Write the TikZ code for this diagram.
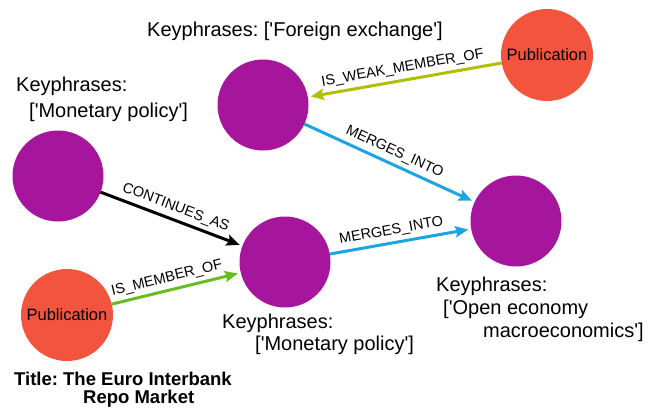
\documentclass[tikz,border=0pt]{standalone}
\usepackage{fontspec}
\setmainfont{Liberation Sans}
\usetikzlibrary{arrows.meta}
\definecolor{kwpurple}{RGB}{166,22,156}
\definecolor{pubred}{RGB}{242,84,62}
\definecolor{relolive}{RGB}{176,190,10}
\definecolor{relblue}{RGB}{28,165,226}
\definecolor{relgreen}{RGB}{102,190,30}
\newcommand{\sq}{\textquotesingle}
\tikzset{
  kwnode/.style={circle, fill=kwpurple, minimum size=91pt, inner sep=0pt, outer sep=0pt},
  pubnode/.style={circle, fill=pubred, minimum size=92pt, inner sep=0pt, outer sep=0pt,
    font=\fontsize{16.5}{18}\selectfont},
  caption/.style={font=\fontsize{20}{22}\selectfont, inner sep=0pt, anchor=base west},
  titletext/.style={font=\fontsize{18.5}{20}\selectfont\bfseries, inner sep=0pt, anchor=base west},
  rel/.style={line width=3pt, -{Stealth[length=13pt, width=11pt, inset=2pt]}, shorten >=3pt},
  rellabel/.style={midway, sloped, above=3pt, inner sep=1pt, font=\fontsize{14.5}{16}\selectfont}
}
\begin{document}
\frenchspacing
\begin{tikzpicture}[x=1pt, y=1pt]
  \useasboundingbox (0,0) rectangle (656,-407);

  % nodes
  \node[kwnode]  (mono1) at (58,-176)  {};
  \node[kwnode]  (forex) at (263,-105) {};
  \node[pubnode] (pub1)  at (547,-55)  {Publication};
  \node[kwnode]  (open)  at (516,-221) {};
  \node[kwnode]  (mono2) at (285,-262) {};
  \node[pubnode] (pub2)  at (67,-315)  {Publication};

  % captions
  \node[caption] (capforex)  at (147,-36)  {Keyphrases: [\sq Foreign exchange\sq]};
  \node[caption] (capmonoA)  at (16,-91)   {Keyphrases:};
  \node[caption] (capmonoB)  at (29,-117)  {[\sq Monetary policy\sq]};
  \node[caption] (capmonoC)  at (222,-328) {Keyphrases:};
  \node[caption] (capmonoD)  at (255,-350) {[\sq Monetary policy\sq]};
  \node[caption] (capopenA)  at (436,-291) {Keyphrases:};
  \node[caption] (capopenB)  at (443,-314) {[\sq Open economy};
  \node[caption] (capopenC)  at (483,-337) {macroeconomics\sq]};
  \node[titletext] (titleA)  at (14,-385)  {Title: The Euro Interbank};
  \node[titletext] (titleB)  at (83,-403)  {Repo Market};

  % relationships
  \draw[rel, relolive] (pub1) -- (forex) node[rellabel, black] {IS\_WEAK\_MEMBER\_OF};
  \draw[rel, relblue]  (forex) -- (open) node[rellabel, black] {MERGES\_INTO};
  \draw[rel, black]    (mono1) -- (mono2) node[rellabel] {CONTINUES\_AS};
  \draw[rel, relgreen] (pub2) -- (mono2) node[rellabel, black, pos=0.45] {IS\_MEMBER\_OF};
  \draw[rel, relblue]  (mono2) -- (open) node[rellabel, black, pos=0.45] {MERGES\_INTO};
\end{tikzpicture}
\end{document}
